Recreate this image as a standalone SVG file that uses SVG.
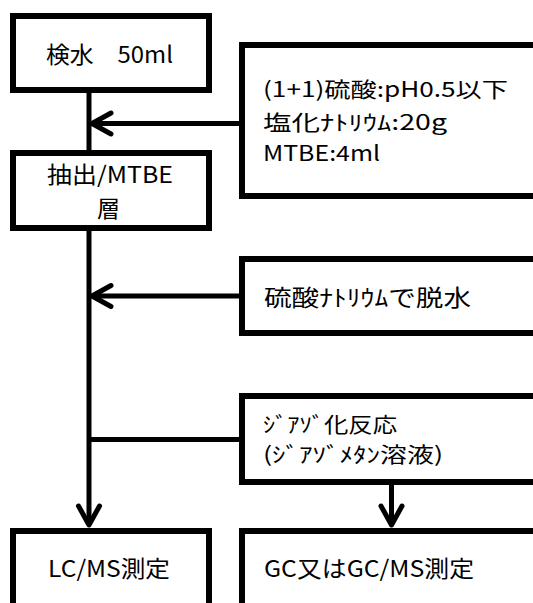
<svg xmlns="http://www.w3.org/2000/svg" width="533" height="603" viewBox="0 0 533 603">
<style>
.box{fill:#fff;stroke:#000;stroke-width:6}
.ln{fill:none;stroke:#000;stroke-width:5}
.hd{fill:none;stroke:#000;stroke-width:5;stroke-linecap:round;stroke-linejoin:round}
text{font-family:"Noto Sans CJK JP","Noto Sans",sans-serif;font-size:23px;fill:#000}
.sm{font-size:21px}
</style>
<rect width="533" height="603" fill="#fff"/>
<g id="connectors">
<line class="ln" x1="89" y1="90" x2="89" y2="153"/>
<line class="ln" x1="242" y1="123.5" x2="92" y2="123.5"/>
<polyline class="hd" points="111,113 92,123.5 111,134"/>
<line class="ln" x1="89" y1="228" x2="89" y2="525"/>
<line class="ln" x1="242" y1="296" x2="92" y2="296"/>
<polyline class="hd" points="111,285.5 92,296 111,306.5"/>
<line class="ln" x1="242" y1="439.5" x2="89" y2="439.5"/>
<polyline class="hd" points="78.5,506 89,525 99.5,506"/>
<line class="ln" x1="391.5" y1="482" x2="391.5" y2="525"/>
<polyline class="hd" points="381,506 391.5,525 402,506"/>
</g>
<g id="n1">
<rect class="box" x="13" y="16" width="196" height="74"/>
<text x="46" y="63" textLength="127" lengthAdjust="spacingAndGlyphs">検水　50ml</text>
</g>
<g id="n2">
<rect class="box" x="242" y="45" width="310" height="151"/>
<text class="sm" x="263" y="97" textLength="245" lengthAdjust="spacingAndGlyphs">(1+1)硫酸:pH0.5以下</text>
<text class="sm" x="263" y="130" textLength="184" lengthAdjust="spacingAndGlyphs">塩化ﾅﾄﾘｳﾑ:20g</text>
<text class="sm" x="263" y="161" textLength="117" lengthAdjust="spacingAndGlyphs">MTBE:4ml</text>
</g>
<g id="n3">
<rect class="box" x="13" y="153" width="196" height="75"/>
<text x="47" y="183" textLength="126" lengthAdjust="spacingAndGlyphs">抽出/MTBE</text>
<text x="108.5" y="217" text-anchor="middle">層</text>
</g>
<g id="n4">
<rect class="box" x="242" y="259" width="310" height="74"/>
<text x="264" y="306" textLength="207" lengthAdjust="spacingAndGlyphs">硫酸ﾅﾄﾘｳﾑで脱水</text>
</g>
<g id="n5">
<rect class="box" x="242" y="396" width="310" height="86"/>
<text class="sm" x="263" y="432" textLength="134" lengthAdjust="spacingAndGlyphs">ｼﾞｱｿﾞ化反応</text>
<text class="sm" x="263" y="462" textLength="180" lengthAdjust="spacingAndGlyphs">(ｼﾞｱｿﾞﾒﾀﾝ溶液)</text>
</g>
<g id="n6">
<rect class="box" x="13" y="531" width="196" height="90"/>
<text x="48" y="577" textLength="122" lengthAdjust="spacingAndGlyphs">LC/MS測定</text>
</g>
<g id="n7">
<rect class="box" x="242" y="531" width="310" height="90"/>
<text x="264" y="577" textLength="210" lengthAdjust="spacingAndGlyphs">GC又はGC/MS測定</text>
</g>
</svg>
